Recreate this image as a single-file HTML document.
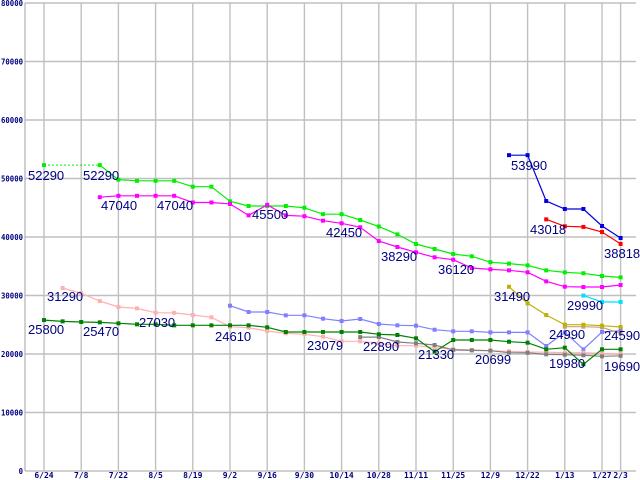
<!DOCTYPE html>
<html><head><meta charset="utf-8"><style>
html,body{margin:0;padding:0;background:#fff;}
svg{display:block;}
.ax{font-family:"DejaVu Sans Mono","Liberation Mono",monospace;font-size:8px;font-weight:bold;fill:#000080;}
.lb{font-family:"Liberation Sans",sans-serif;font-size:13px;fill:#000080;}
</style></head><body>
<svg id="chart" width="640" height="480" xmlns="http://www.w3.org/2000/svg"></svg>
<script>
const yTicks=[0,10000,20000,30000,40000,50000,60000,70000,80000];
const xTickWeeks=[0,2,4,6,8,10,12,14,16,18,20,22,24,26,28,30,31];
const xTickLabels=["6/24","7/8","7/22","8/5","8/19","9/2","9/16","9/30","10/14","10/28","11/11","11/25","12/9","12/22","1/13","1/27","2/3"];
const lime=[[0,52290],[3,52290],[4,49800],[5,49600],[6,49600],[7,49600],[8,48600],[9,48600],[10,46100],[11,45300],[12,45300],[13,45300],[14,45000],[15,43900],[16,43900],[17,42900],[18,41800],[19,40450],[20,38800],[21,37950],[22,37100],[23,36700],[24,35700],[25,35450],[26,35150],[27,34300],[28,33950],[29,33800],[30,33330],[31,33100]];
const magenta=[[3,46800],[4,47040],[5,47040],[6,47040],[7,47040],[8,45900],[9,45900],[10,45650],[11,43700],[12,45500],[13,43700],[14,43550],[15,42790],[16,42340],[17,41660],[18,39300],[19,38290],[20,37380],[21,36530],[22,36120],[23,34700],[24,34470],[25,34300],[26,33960],[27,32420],[28,31510],[29,31450],[30,31450],[31,31790]];
const blue=[[25,53990],[26,53990],[27,46150],[28,44790],[29,44790],[30,41880],[31,39830]];
const red=[[27,43018],[28,41830],[29,41720],[30,40850],[31,38818]];
const olive=[[25,31490],[26,28660],[27,26660],[28,25010],[29,25010],[30,24840],[31,24620]];
const cyan=[[29,29990],[30,28890],[31,28890]];
const pink=[[1,31290],[2,30370],[3,29060],[4,28030],[5,27800],[6,27060],[7,27030],[8,26660],[9,26270],[10,24660],[11,24500],[12,23930],[13,23540],[14,23370],[15,22960],[16,22170],[17,22170],[18,21830],[19,21420],[20,21420],[21,21080],[22,20800],[23,20680],[24,20570],[25,20460],[26,20340],[27,20300],[28,20230],[29,20230],[30,20110],[31,20060]];
const dgreen=[[0,25800],[1,25580],[2,25470],[3,25410],[4,25240],[5,25070],[6,25070],[7,24900],[8,24900],[9,24900],[10,24900],[11,24900],[12,24560],[13,23760],[14,23760],[15,23760],[16,23760],[17,23760],[18,23370],[19,23250],[20,22680],[21,20400],[22,22390],[23,22390],[24,22390],[25,22100],[26,21930],[27,20800],[28,21080],[29,18240],[30,20800],[31,20800]];
const lavender=[[10,28260],[11,27180],[12,27180],[13,26610],[14,26610],[15,26040],[16,25640],[17,25980],[18,25130],[19,24900],[20,24840],[21,24150],[22,23880],[23,23880],[24,23700],[25,23700],[26,23700],[27,21370],[28,23700],[29,20800],[30,23760],[31,23980]];
const gray=[[17,22890],[18,22890],[19,22050],[20,21830],[21,21540],[22,20699],[23,20620],[24,20570],[25,20230],[26,20200],[27,19940],[28,19880],[29,19780],[30,19600],[31,19690]];
const tan=[[28,24670],[29,24670],[30,24560],[31,23540]];
const seriesList=[["lavender-series",lavender,"#8080ff"],["pink-series",pink,"#ffb0b0"],["gray-series",gray,"#808080"],["tan-series",tan,"#c8a080"],["dark-green-series",dgreen,"#008000"],["olive-series",olive,"#c0b000"],["cyan-series",cyan,"#00e0ff"],["lime-series",lime,"#00f000"],["magenta-series",magenta,"#ff00ff"],["red-series",red,"#ff0000"],["blue-series",blue,"#0000e0"]];
const labels=[["52290",28,180],["52290",83,180],["47040",101,210],["47040",157,210],["45500",252,219],["42450",326,237],["38290",381,261],["36120",438,274],["53990",511,170],["43018",530,234],["38818",604,258],["31490",494,301],["29990",567,310],["31290",47,301],["25800",28,334],["25470",83,336],["27030",139,327],["24610",215,341],["23079",307,350],["22890",363,351],["21330",418,359],["20699",475,364],["24990",549,339],["19980",549,368],["24590",604,340],["19690",604,371]];

const NS="http://www.w3.org/2000/svg";
const svg=document.getElementById('chart');
const X0=44,WK=18.6,Y0=471,SC=468/80000,PL=25,PR=636;
const xs=w=>X0+w*WK, ys=v=>Y0-v*SC;
function mk(t,a,p){const e=document.createElementNS(NS,t);for(const k in a)e.setAttribute(k,a[k]);(p||svg).appendChild(e);return e;}
const grid=mk('g',{});


yTicks.forEach(v=>{
  mk('line',{x1:PL,x2:PR,y1:ys(v),y2:ys(v),stroke:'#c0c0c0','stroke-width':1.4},grid);
  const s=String(v);
  const t=mk('text',{x:23,y:ys(v)+3,'text-anchor':'end',class:'ax',textLength:s.length*4.4,lengthAdjust:'spacingAndGlyphs'});
  t.textContent=s;
  
  
});
xTickWeeks.forEach((w,i)=>{
  mk('line',{x1:xs(w),x2:xs(w),y1:3,y2:Y0,stroke:'#c0c0c0','stroke-width':1.4},grid);
  const t=mk('text',{x:xs(w),y:478,'text-anchor':'middle',class:'ax'});
  t.textContent=xTickLabels[i];
  
  
});
mk('line',{x1:PL,x2:PL,y1:3,y2:Y0,stroke:'#a0a0a0'},grid);
seriesList.forEach(([name,data,col])=>{
  const g=mk('g',{});
  
  
  let start=0;
  if(name==='lime-series'){
    mk('line',{x1:xs(data[0][0]),y1:ys(data[0][1]),x2:xs(data[1][0]),y2:ys(data[1][1]),stroke:col,'stroke-dasharray':'2,2'},g);
    start=1;
  }
  const pts=data.slice(start).map(d=>xs(d[0]).toFixed(1)+','+ys(d[1]).toFixed(1)).join(' ');
  const pl=mk('polyline',{points:pts,fill:'none',stroke:col,'stroke-width':1.2},g);
  
  
  data.forEach(d=>{
    const r=mk('rect',{x:xs(d[0])-2,y:ys(d[1])-2,width:4,height:4,fill:col},g);
    
    
  });
});
labels.forEach(([t,x,y])=>{
  const e=mk('text',{x:x,y:y,class:'lb'});
  e.textContent=t;
  
  
});
</script>
</body></html>
